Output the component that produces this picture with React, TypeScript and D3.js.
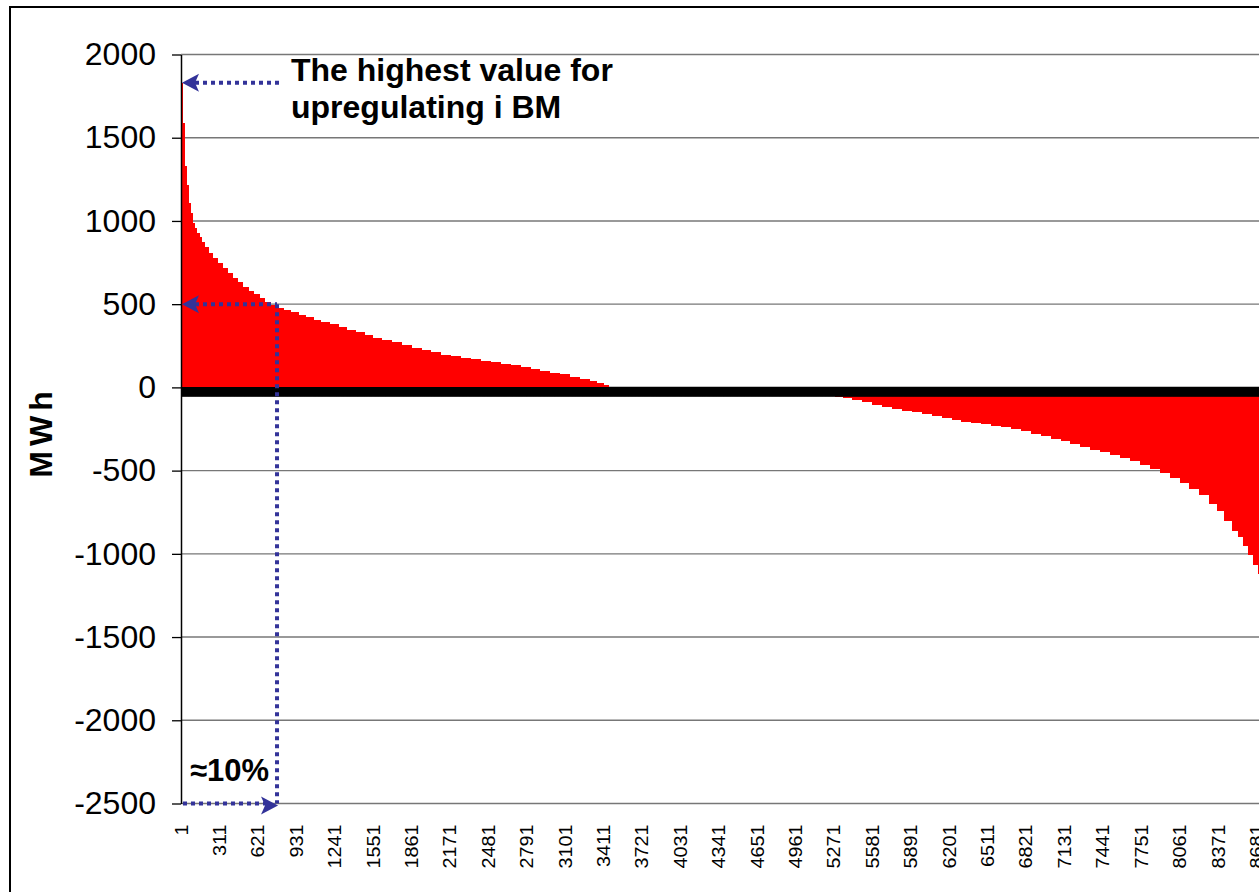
import React, { useRef, useEffect } from "react";
import * as d3 from "d3";

// duration curve, sorted hours: each step starts at stepStart[i] and holds stepMWh[i]
const stepStart = [
  1, 15, 31, 47, 63, 79, 95, 111, 130, 150, 170, 195, 225, 260, 300, 340, 380, 420, 460, 500,
  545, 590, 635, 680, 725, 775, 830, 890, 950, 1010, 1070, 1130, 1200, 1270, 1340, 1410, 1480,
  1550, 1620, 1700, 1780, 1860, 1940, 2020, 2100, 2180, 2260, 2340, 2420, 2500, 2580, 2660,
  2740, 2820, 2900, 2980, 3060, 3140, 3220, 3300, 3360, 3410, 3450,
  5280, 5340, 5420, 5500, 5580, 5660, 5740, 5820, 5900, 5980, 6060, 6140, 6220, 6300, 6380,
  6460, 6540, 6620, 6700, 6780, 6860, 6940, 7020, 7100, 7180, 7260, 7340, 7420, 7500, 7580,
  7660, 7740, 7820, 7900, 7980, 8060, 8140, 8220, 8300, 8360, 8420, 8480, 8530, 8570, 8610,
  8650, 8690, 8720, 8745,
];
const stepMWh = [
  1830, 1590, 1330, 1216, 1110, 1048, 990, 958, 930, 905, 876, 845, 810, 775, 745, 715, 690, 660,
  632, 605, 581, 560, 537, 515, 495, 478, 462, 450, 435, 420, 405, 395, 378, 362, 345, 330, 315,
  298, 285, 270, 255, 235, 222, 210, 197, 188, 178, 168, 158, 150, 142, 134, 124, 112, 98, 88, 78,
  65, 52, 38, 25, 12, 0,
  -58, -66, -78, -90, -105, -118, -130, -140, -150, -160, -172, -185, -196, -206, -215, -222, -230,
  -238, -250, -260, -278, -295, -312, -325, -340, -360, -375, -388, -408, -425, -442, -465, -490,
  -515, -545, -575, -610, -645, -700, -745, -800, -860, -900, -955, -1010, -1070, -1120, -1200,
  -1300,
];
const HOURS = 8760;
const yTicks = [2000, 1500, 1000, 500, 0, -500, -1000, -1500, -2000, -2500];
const xTickLabels = d3.range(1, HOURS + 1, 310);
// hour where the curve drops to 500 MWh (the "≈10%" marker)
const markHour = 776;
const markMWh = 500;

const App = () => {
  const svgRef = useRef(null);

  useEffect(() => {
    const width = 1259;
    const height = 892;
    const left = 181;
    const top = 54.5;
    const bottom = 803.5;
    const blue = "#333399";
    const font = "Arial, 'Liberation Sans', sans-serif";

    const svg = d3.select(svgRef.current);
    svg.selectAll("*").remove();
    svg.attr("width", width).attr("height", height);

    const x = d3.scaleLinear().domain([1, HOURS + 1]).range([left, left + HOURS * 0.1239]);
    const y = d3.scaleLinear().domain([-2500, 2000]).range([bottom, top]);

    // chart frame (cut off at the right and bottom)
    svg.append("rect")
      .attr("x", 10).attr("y", 7)
      .attr("width", 1400).attr("height", 1000)
      .attr("fill", "#fff").attr("stroke", "#000").attr("stroke-width", 2);

    // gridlines
    svg.append("g")
      .selectAll("line")
      .data(yTicks)
      .join("line")
      .attr("x1", left).attr("x2", width + 20)
      .attr("y1", (d) => y(d)).attr("y2", (d) => y(d))
      .attr("stroke", (d) => (d === 0 ? "#000" : "#777"))
      .attr("stroke-width", 1.4);

    // bars
    const steps = stepStart.map((s, i) => ({
      start: s,
      end: i < stepStart.length - 1 ? stepStart[i + 1] : HOURS + 1,
      value: stepMWh[i],
    }));
    svg.append("g")
      .selectAll("rect")
      .data(steps.filter((d) => d.value !== 0))
      .join("rect")
      .attr("x", (d) => x(d.start))
      .attr("width", (d) => x(d.end) - x(d.start) + 0.3)
      .attr("y", (d) => y(Math.max(0, d.value)))
      .attr("height", (d) => Math.abs(y(d.value) - y(0)))
      .attr("fill", "#ff0000")
      .attr("shape-rendering", "crispEdges");

    // category axis at zero with a tick mark per hour
    const xAxis = d3.axisBottom(x)
      .tickValues(d3.range(1, HOURS + 1, 2))
      .tickSize(9)
      .tickSizeOuter(0)
      .tickFormat(() => "");
    const gx = svg.append("g").attr("transform", `translate(0,${y(0)})`).call(xAxis);
    gx.selectAll("line").attr("stroke", "#000").attr("stroke-width", 1);
    gx.select(".domain").attr("stroke", "#000").attr("stroke-width", 1.5);

    // x tick labels along the bottom
    svg.append("g")
      .selectAll("text")
      .data(xTickLabels)
      .join("text")
      .attr("transform", (d) => `translate(${x(d) + 6.5},${bottom + 21}) rotate(-90) scale(1.1,1)`)
      .attr("text-anchor", "end")
      .attr("font-family", font)
      .attr("font-size", 18)
      .attr("fill", "#000")
      .text((d) => d);

    // y axis
    const yAxis = d3.axisLeft(y)
      .tickValues(yTicks)
      .tickSize(9)
      .tickSizeOuter(0)
      .tickPadding(16)
      .tickFormat((d) => String(d));
    const gy = svg.append("g").attr("transform", `translate(${left},0)`).call(yAxis);
    gy.select(".domain").attr("stroke", "#000").attr("stroke-width", 1.5);
    gy.selectAll("line").attr("stroke", "#000").attr("stroke-width", 1.3);
    gy.selectAll("text")
      .attr("font-family", font)
      .attr("font-size", 32)
      .attr("fill", "#000");

    svg.append("text")
      .attr("transform", `translate(52,432) rotate(-90)`)
      .attr("text-anchor", "middle")
      .attr("font-family", font)
      .attr("font-weight", "bold")
      .attr("font-size", 32)
      .attr("letter-spacing", 5)
      .text("MWh");

    // annotations
    const ann = svg.append("g");
    const dotted = (x1, y1, x2, y2) =>
      ann.append("line")
        .attr("x1", x1).attr("y1", y1).attr("x2", x2).attr("y2", y2)
        .attr("stroke", blue).attr("stroke-width", 4)
        .attr("stroke-dasharray", "4,4");
    const head = (tipX, tipY, dir) =>
      ann.append("path")
        .attr("d", `M${tipX},${tipY} L${tipX - dir * 17},${tipY - 9} L${tipX - dir * 13},${tipY} L${tipX - dir * 17},${tipY + 9} Z`)
        .attr("fill", blue);

    const peak = stepMWh[0];
    const markX = x(markHour);
    dotted(left + 14, y(peak), 279, y(peak));
    head(left + 1, y(peak), -1);

    dotted(left + 14, y(markMWh), markX, y(markMWh));
    head(left + 1, y(markMWh), -1);
    dotted(markX, y(markMWh), markX, bottom);
    dotted(left + 2, y(-2500), markX - 12, y(-2500));
    head(markX + 1, y(-2500) + 2, 1);

    const note = svg.append("text")
      .attr("font-family", font)
      .attr("font-weight", "bold")
      .attr("font-size", 32)
      .attr("fill", "#000");
    note.append("tspan").attr("x", 291).attr("y", 81).text("The highest value for");
    note.append("tspan").attr("x", 291).attr("y", 118).text("upregulating i BM");

    svg.append("text")
      .attr("x", 190).attr("y", 781)
      .attr("font-family", font)
      .attr("font-weight", "bold")
      .attr("font-size", 31)
      .text("≈10%");
  }, []);

  return <svg ref={svgRef} style={{ position: "absolute", left: 0, top: 0 }}></svg>;
};

export default App;
